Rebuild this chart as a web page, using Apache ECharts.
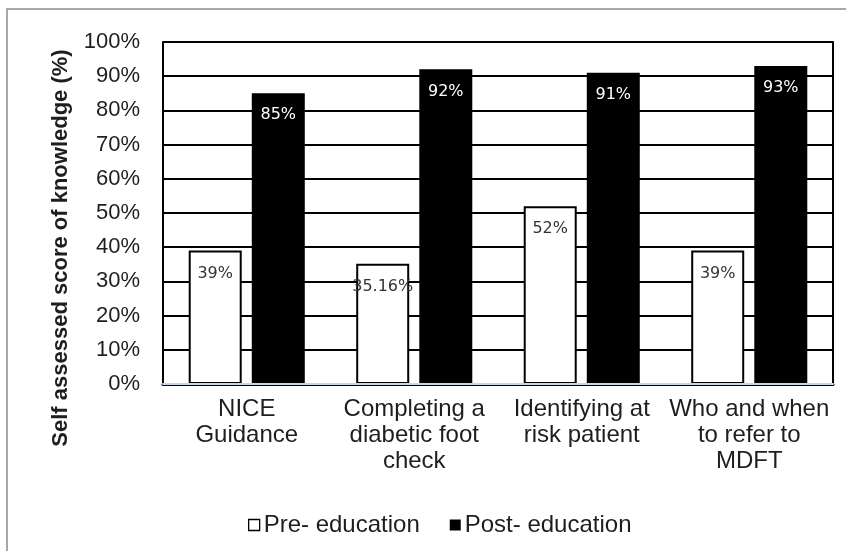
<!DOCTYPE html>
<html>
<head>
<meta charset="utf-8">
<script src="https://cdn.jsdelivr.net/npm/echarts@6/dist/echarts.min.js"></script>
<style>
html,body{margin:0;padding:0;background:#fff;}
#chart{width:846px;height:551px;}
</style>
</head>
<body>
<div id="chart"></div>
<script>
var categories = ['NICE\nGuidance', 'Completing a\ndiabetic foot\ncheck', 'Identifying at\nrisk patient', 'Who and when\nto refer to\nMDFT'];
var preEducation = [39, 35.16, 52, 39];
var postEducation = [85, 92, 91, 93];
var seriesNames = ['Pre- education', 'Post- education'];
var yAxisTitle = 'Self assessed score of knowledge (%)';

var chart = echarts.init(document.getElementById('chart'));
var txt = '#1e1e1e';
chart.setOption({
  animation: false,
  backgroundColor: '#fff',
  grid: {left: 163, top: 42, right: 13, bottom: 167, show: false},
  graphic: [
    {type: 'rect', shape: {x: 7, y: 9, width: 900, height: 700},
     style: {fill: 'none', stroke: '#8c8c8c', lineWidth: 1.5}, silent: true},
    {type: 'text', x: 61, y: 248, rotation: Math.PI / 2,
     style: {text: yAxisTitle, font: 'bold 22px "Liberation Sans", Arial, sans-serif',
             fill: txt, textAlign: 'center', textVerticalAlign: 'middle'}}
  ],
  legend: {
    left: 243, top: 508,
    itemWidth: 11, itemHeight: 11, itemGap: 30,
    icon: 'rect',
    textStyle: {fontFamily: '"Liberation Sans", Arial, sans-serif', fontSize: 24, color: txt, padding: [0, 0, 0, -1]},
    data: [
      {name: seriesNames[0], itemStyle: {color: '#fff', borderColor: '#000', borderWidth: 1.3}},
      {name: seriesNames[1], itemStyle: {color: '#000', borderWidth: 0}}
    ]
  },
  xAxis: [{
    type: 'category',
    data: categories,
    z: 5,
    axisLine: {show: true, lineStyle: {color: '#c9d6ea', width: 2}},
    axisTick: {show: false},
    axisLabel: {fontFamily: '"Liberation Sans", Arial, sans-serif', fontSize: 24, color: txt, lineHeight: 26, margin: 12, interval: 0},
    splitLine: {show: false}
  }, {
    type: 'category', position: 'top',
    data: categories,
    axisLine: {show: true, lineStyle: {color: '#000', width: 3}},
    axisTick: {show: false}, axisLabel: {show: false}, splitLine: {show: false}
  }],
  yAxis: [{
    type: 'value', min: 0, max: 100, interval: 10,
    axisLine: {show: true, lineStyle: {color: '#000', width: 2}},
    axisTick: {show: false},
    axisLabel: {formatter: '{value}%', fontFamily: '"Liberation Sans", Arial, sans-serif', fontSize: 22, color: txt, margin: 23},
    splitLine: {show: true, lineStyle: {color: '#000', width: 2}}
  }, {
    type: 'value', min: 0, max: 100, interval: 10, position: 'right',
    axisLine: {show: true, lineStyle: {color: '#000', width: 2}},
    axisTick: {show: false}, axisLabel: {show: false}, splitLine: {show: false}
  }],
  series: [
    {
      name: seriesNames[0], type: 'bar', data: preEducation,
      barWidth: 53, barGap: '19%',
      itemStyle: {color: '#fff', borderColor: '#000', borderWidth: 2},
      label: {show: true, position: 'insideTop', distance: 15, formatter: '{c}%',
              fontFamily: '"DejaVu Sans", sans-serif', fontSize: 16, color: '#333'}
    },
    {
      name: seriesNames[1], type: 'bar', data: postEducation,
      barWidth: 53,
      itemStyle: {color: '#000'},
      label: {show: true, position: 'insideTop', distance: 14, formatter: '{c}%',
              fontFamily: '"DejaVu Sans", sans-serif', fontSize: 16, color: '#fff'}
    }
  ]
});
</script>
</body>
</html>
